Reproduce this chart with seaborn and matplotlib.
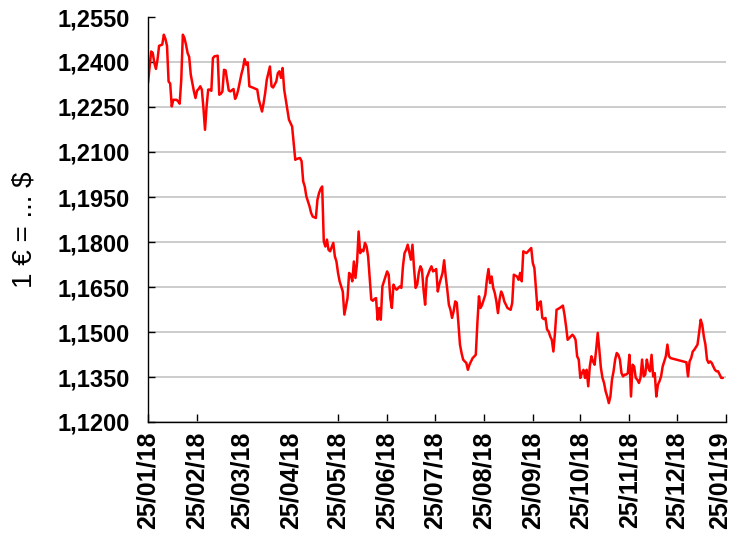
import matplotlib
matplotlib.use("Agg")
import matplotlib.pyplot as plt
import matplotlib.transforms as mtransforms
import seaborn as sns
import pandas as pd

# ---- data ----
start_date = "2018-01-25"
day_offsets = [
    0, 2, 3, 4, 5, 6, 7, 9, 10, 11, 12, 13, 14, 15, 16, 18, 19, 20, 21, 22,
    23, 24, 25, 26, 27, 28, 29, 30, 31, 32, 33, 34, 35, 36, 37, 38, 39, 40, 41, 42,
    44, 45, 46, 47, 48, 49, 51, 52, 54, 55, 56, 57, 59, 60, 61, 62, 63, 64, 66, 69,
    70, 72, 73, 74, 75, 77, 78, 79, 81, 82, 83, 84, 85, 86, 87, 88, 89, 91, 92, 93,
    94, 96, 97, 98, 99, 100, 102, 103, 104, 106, 107, 108, 109, 110, 111, 112, 113, 114, 115, 117,
    118, 119, 120, 121, 122, 123, 124, 126, 127, 128, 129, 130, 131, 132, 133, 134, 135, 136, 137, 138,
    139, 140, 141, 142, 143, 144, 145, 146, 147, 148, 149, 151, 152, 153, 154, 155, 156, 157, 159, 160,
    161, 162, 163, 164, 166, 167, 168, 169, 170, 171, 172, 173, 174, 175, 176, 178, 179, 180, 181, 182,
    183, 184, 186, 187, 188, 189, 190, 191, 192, 193, 194, 195, 196, 197, 198, 199, 200, 201, 202, 203,
    204, 205, 207, 208, 209, 210, 211, 212, 213, 214, 215, 216, 217, 218, 219, 220, 221, 222, 223, 224,
    225, 227, 229, 230, 231, 233, 234, 235, 236, 237, 239, 241, 242, 243, 244, 245, 246, 247, 248, 249,
    250, 251, 252, 253, 254, 255, 256, 257, 258, 260, 262, 263, 264, 265, 267, 268, 269, 270, 271, 272,
    273, 274, 275, 276, 277, 278, 279, 280, 281, 282, 283, 284, 285, 286, 287, 288, 289, 290, 291, 292,
    293, 294, 295, 296, 297, 298, 299, 300, 301, 302, 303, 304, 305, 306, 307, 308, 309, 310, 311, 312,
    313, 314, 315, 316, 317, 318, 319, 320, 321, 322, 323, 324, 325, 327, 328, 329, 330, 340, 341, 342,
    343, 344, 345, 347, 348, 349, 350, 351, 352, 353, 354, 355, 356, 357, 358, 359, 360, 361, 362, 363,
]
eur_usd = [
    1.2330, 1.2435, 1.2430, 1.2397, 1.2377, 1.2408, 1.2454, 1.2458, 1.2491, 1.2477, 1.2454, 1.2335, 1.2328, 1.2252, 1.2274, 1.2274, 1.2269, 1.2261, 1.2341, 1.2491,
    1.2480, 1.2458, 1.2430, 1.2417, 1.2358, 1.2330, 1.2302, 1.2280, 1.2305, 1.2310, 1.2319, 1.2308, 1.2247, 1.2174, 1.2252, 1.2308, 1.2308, 1.2304, 1.2413, 1.2419,
    1.2421, 1.2291, 1.2294, 1.2302, 1.2374, 1.2372, 1.2305, 1.2302, 1.2310, 1.2277, 1.2288, 1.2308, 1.2360, 1.2380, 1.2410, 1.2391, 1.2399, 1.2319, 1.2315, 1.2308,
    1.2274, 1.2235, 1.2263, 1.2297, 1.2341, 1.2385, 1.2319, 1.2315, 1.2335, 1.2363, 1.2369, 1.2347, 1.2380, 1.2308, 1.2274, 1.2241, 1.2208, 1.2185, 1.2130, 1.2074,
    1.2077, 1.2080, 1.2069, 1.2002, 1.1985, 1.1952, 1.1919, 1.1897, 1.1885, 1.1880, 1.1941, 1.1963, 1.1977, 1.1985, 1.1802, 1.1785, 1.1808, 1.1774, 1.1769, 1.1797,
    1.1752, 1.1735, 1.1697, 1.1669, 1.1652, 1.1635, 1.1558, 1.1613, 1.1697, 1.1691, 1.1669, 1.1735, 1.1680, 1.1730, 1.1835, 1.1763, 1.1774, 1.1769, 1.1797, 1.1785,
    1.1752, 1.1680, 1.1608, 1.1604, 1.1610, 1.1613, 1.1541, 1.1580, 1.1541, 1.1652, 1.1669, 1.1702, 1.1691, 1.1613, 1.1580, 1.1658, 1.1647, 1.1641, 1.1652, 1.1647,
    1.1719, 1.1763, 1.1774, 1.1791, 1.1741, 1.1791, 1.1713, 1.1647, 1.1658, 1.1697, 1.1719, 1.1708, 1.1641, 1.1591, 1.1680, 1.1708, 1.1719, 1.1702, 1.1705, 1.1710,
    1.1635, 1.1660, 1.1697, 1.1739, 1.1685, 1.1641, 1.1591, 1.1574, 1.1547, 1.1569, 1.1602, 1.1597, 1.1530, 1.1458, 1.1430, 1.1408, 1.1402, 1.1397, 1.1374, 1.1391,
    1.1402, 1.1413, 1.1424, 1.1530, 1.1619, 1.1580, 1.1591, 1.1608, 1.1624, 1.1674, 1.1710, 1.1663, 1.1685, 1.1647, 1.1630, 1.1602, 1.1563, 1.1608, 1.1635, 1.1624,
    1.1602, 1.1580, 1.1574, 1.1597, 1.1691, 1.1685, 1.1674, 1.1697, 1.1669, 1.1769, 1.1763, 1.1774, 1.1780, 1.1730, 1.1713, 1.1641, 1.1574, 1.1597, 1.1602, 1.1547,
    1.1543, 1.1547, 1.1508, 1.1502, 1.1485, 1.1474, 1.1435, 1.1497, 1.1574, 1.1580, 1.1588, 1.1558, 1.1519, 1.1474, 1.1485, 1.1491, 1.1485, 1.1474, 1.1419, 1.1408,
    1.1347, 1.1363, 1.1374, 1.1347, 1.1374, 1.1319, 1.1385, 1.1419, 1.1402, 1.1391, 1.1441, 1.1497, 1.1441, 1.1380, 1.1347, 1.1330, 1.1302, 1.1285, 1.1263, 1.1285,
    1.1341, 1.1369, 1.1408, 1.1430, 1.1424, 1.1408, 1.1363, 1.1352, 1.1358, 1.1358, 1.1363, 1.1424, 1.1285, 1.1391, 1.1385, 1.1347, 1.1341, 1.1330, 1.1347, 1.1408,
    1.1352, 1.1358, 1.1408, 1.1380, 1.1369, 1.1424, 1.1352, 1.1363, 1.1285, 1.1324, 1.1336, 1.1352, 1.1385, 1.1419, 1.1458, 1.1419, 1.1413, 1.1399, 1.1352, 1.1402,
    1.1413, 1.1435, 1.1441, 1.1458, 1.1497, 1.1541, 1.1524, 1.1485, 1.1458, 1.1408, 1.1397, 1.1402, 1.1397, 1.1385, 1.1374, 1.1369, 1.1369, 1.1358, 1.1347, 1.1347,
]
x_tick_labels = ["25/01/18", "25/02/18", "25/03/18", "25/04/18", "25/05/18", "25/06/18", "25/07/18",
                 "25/08/18", "25/09/18", "25/10/18", "25/11/18", "25/12/18", "25/01/19"]
y_ticks = [1.1200, 1.1350, 1.1500, 1.1650, 1.1800, 1.1950, 1.2100, 1.2250, 1.2400, 1.2550]
y_tick_labels = ["1,1200", "1,1350", "1,1500", "1,1650", "1,1800", "1,1950", "1,2100", "1,2250", "1,2400", "1,2550"]
y_label = "1 € = ... $"

# ---- build ----
dates = pd.Timestamp(start_date) + pd.to_timedelta(day_offsets, unit="D")
df = pd.DataFrame({"date": dates, "rate": eur_usd})
x_tick_dates = pd.to_datetime(x_tick_labels, format="%d/%m/%y")

sns.set_style("white")
plt.rcParams["font.family"] = ["Liberation Sans", "DejaVu Sans"]

W, H = 736, 546
fig = plt.figure(figsize=(W / 100, H / 100), dpi=100)
ax = fig.add_axes([148 / W, 1 - 422 / H, (726 - 148) / W, (422 - 17) / H])

sns.lineplot(data=df, x="date", y="rate", color="#ff0000", linewidth=1.8, ax=ax, zorder=3)

ax.set_xlim(x_tick_dates[0], x_tick_dates[-1])
ax.set_ylim(y_ticks[0], y_ticks[-1])
ax.set_xlabel("")
ax.set_ylabel("")

ax.set_yticks(y_ticks)
ax.set_yticklabels(y_tick_labels, fontsize=17, fontweight="bold", color="black")
ax.set_xticks(x_tick_dates)
ax.set_xticklabels(x_tick_labels, rotation=90, fontsize=18, fontweight="bold", color="black")

ax.yaxis.grid(True, color="#bfbfbf", linewidth=1.1)
ax.xaxis.grid(False)
ax.set_axisbelow(True)
ax.yaxis.get_gridlines()[-1].set_visible(False)

for s in ["top", "right"]:
    ax.spines[s].set_visible(False)
for s in ["left", "bottom"]:
    ax.spines[s].set_color("black")
    ax.spines[s].set_linewidth(1.0)
    ax.spines[s].set_zorder(4)

ax.tick_params(axis="x", direction="in", length=6, width=1, color="black", pad=7, bottom=True)
ax.tick_params(axis="y", direction="in", length=5, width=1, color="black", pad=13, left=True)
xt = ax.xaxis.get_major_ticks()
for i in (2, 3):
    xt[i].tick1line.set_visible(False)
# nudge the last date label slightly left so it stays inside the canvas
last_lbl = xt[-1].label1
last_lbl.set_transform(last_lbl.get_transform() + mtransforms.ScaledTranslation(-6 / 100, 0, fig.dpi_scale_trans))

fig.text(25 / W, 1 - 230 / H, y_label, rotation=90, ha="center", va="center", fontsize=20, color="black")

fig.savefig("out.png", dpi=100)
